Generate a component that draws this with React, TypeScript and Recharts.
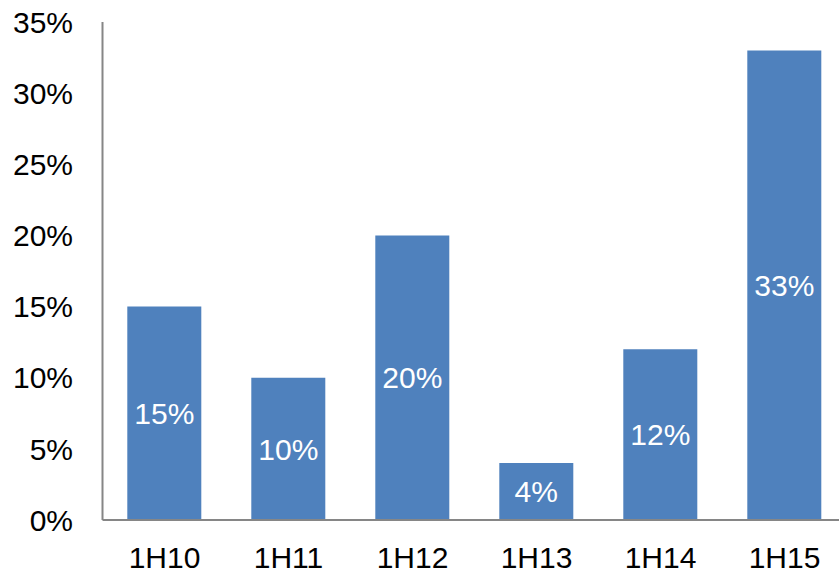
import React from "react";
import { BarChart, Bar, XAxis, YAxis, LabelList } from "recharts";

const periods = ["1H10", "1H11", "1H12", "1H13", "1H14", "1H15"];
const growth = [15, 10, 20, 4, 12, 33];
const yTicks = [0, 5, 10, 15, 20, 25, 30, 35];

const data = periods.map((p, i) => ({ period: p, value: growth[i] }));

const FONT = "'Liberation Sans', Arial, sans-serif";
const AXIS = "#868686";
const BAR = "#4F81BD";

export default function App() {
  return (
    <div
      style={{
        position: "absolute",
        left: 0,
        top: 0,
        width: 839,
        height: 576,
        overflow: "hidden",
        background: "#fff",
      }}
    >
      <BarChart
        width={870}
        height={576}
        data={data}
        margin={{ top: 22, right: 23.5, bottom: 0, left: 0 }}
        barCategoryGap="20%"
      >
        <XAxis
          dataKey="period"
          axisLine={{ stroke: AXIS, strokeWidth: 2 }}
          tickLine={false}
          tickSize={0}
          tickMargin={27}
          tick={{ fill: "#000", fontSize: 30, fontFamily: FONT }}
          height={56}
        />
        <YAxis
          domain={[0, 35]}
          ticks={yTicks}
          interval={0}
          width={102.5}
          axisLine={{ stroke: AXIS, strokeWidth: 2 }}
          tickLine={false}
          tickSize={0}
          tickMargin={29.5}
          tickFormatter={(v: number) => `${v}%`}
          tick={{ fill: "#000", fontSize: 30, fontFamily: FONT }}
        />
        <Bar dataKey="value" fill={BAR} isAnimationActive={false}>
          <LabelList
            dataKey="value"
            position="center"
            formatter={(v: number) => `${v}%`}
            style={{ fill: "#fff", fontSize: 30, fontFamily: FONT }}
          />
        </Bar>
      </BarChart>
    </div>
  );
}
